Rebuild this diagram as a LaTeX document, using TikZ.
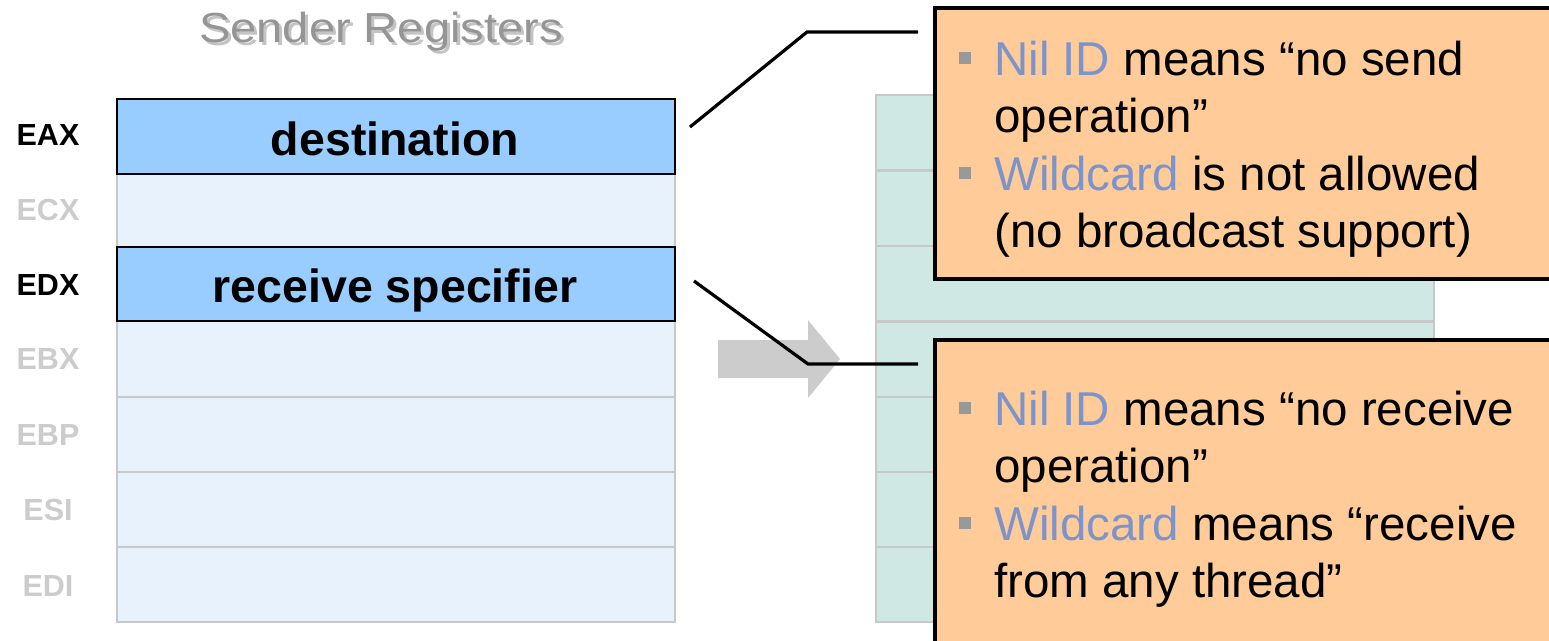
\documentclass[tikz,border=0pt]{standalone}
\usepackage{fontspec}
\setmainfont{Liberation Sans}
\definecolor{regblue}{HTML}{99CCFF}
\definecolor{reglight}{HTML}{E8F2FC}
\definecolor{reggray}{HTML}{C8C8C8}
\definecolor{rteal}{HTML}{CFE8E4}
\definecolor{calloutfill}{HTML}{FFCC99}
\definecolor{hl}{HTML}{7D94CB}
\definecolor{labgray}{HTML}{CCCCCC}
\definecolor{titlegray}{HTML}{959595}
\definecolor{titleshadow}{HTML}{C4C4C4}
\definecolor{bulgray}{HTML}{999999}
\definecolor{arrowgray}{HTML}{CCCCCC}
\begin{document}
\begin{tikzpicture}[x=1pt,y=-1pt,
  lightrow/.style={draw=reggray, line width=2pt, fill=reglight, minimum width=558pt, inner sep=0pt},
  bluerow/.style={draw=black, line width=2pt, fill=regblue, minimum width=558pt, inner sep=0pt},
  regtext/.style={anchor=base, inner sep=0pt, font=\fontsize{46.5}{55}\selectfont\bfseries},
  tealrow/.style={draw=reggray, line width=2pt, fill=rteal, minimum width=558pt, inner sep=0pt},
  reglab/.style={inner sep=0pt, font=\fontsize{30.5}{36}\selectfont\bfseries},
  calloutbox/.style={draw=black, line width=3.5pt, fill=calloutfill, inner sep=0pt},
  cline/.style={anchor=base west, inner sep=0pt, font=\fontsize{47.5}{56}\selectfont},
  bul/.style={fill=bulgray, minimum size=12pt, inner sep=0pt},
  conn/.style={draw=black, line width=3.2pt},
  titletext/.style={anchor=base, inner sep=0pt, xscale=1.12, font=\fontsize{42}{50}\selectfont}
]
\useasboundingbox (0,0) rectangle (1549,640);
% title
\node[titletext, text=titleshadow] (tsh) at (384,45) {Sender Registers};
\node[titletext, text=titlegray] (title) at (381,42) {Sender Registers};
% sender registers
\node[lightrow, minimum height=73pt] (r2) at (396,210.5) {};
\node[lightrow, minimum height=76pt] (r4) at (396,359) {};
\node[lightrow, minimum height=75pt] (r5) at (396,434.5) {};
\node[lightrow, minimum height=75pt] (r6) at (396,509.5) {};
\node[lightrow, minimum height=75pt] (r7) at (396,584.5) {};
\node[bluerow, minimum height=75pt] (r1) at (396,136.5) {};
\node[bluerow, minimum height=74pt] (r3) at (396,284) {};
\node[regtext] (dtext) at (395,155) {destination};
\node[regtext] (rtext) at (395,302) {receive specifier};
% labels
\node[reglab, text=black] (lEAX) at (48,135) {EAX};
\node[reglab, text=labgray] (lECX) at (48,210) {ECX};
\node[reglab, text=black] (lEDX) at (48,285) {EDX};
\node[reglab, text=labgray] (lEBX) at (48,359) {EBX};
\node[reglab, text=labgray] (lEBP) at (48,435) {EBP};
\node[reglab, text=labgray] (lESI) at (48,510) {ESI};
\node[reglab, text=labgray] (lEDI) at (48,586) {EDI};
% receiver registers
\foreach \i/\c in {1/132.5,2/208,3/283.5,4/359,5/434.5,6/509.5,7/584.5}{
  \node[tealrow, minimum height=75pt] (t\i) at (1155,\c) {};
}
% arrow
\fill[arrowgray] (718,340) -- (808,340) -- (808,320) -- (840,359) -- (808,398) -- (808,378) -- (718,378) -- cycle;
% callouts
\node[calloutbox, minimum width=665pt, minimum height=271pt] (c1) at (1267.5,143.5) {};
\node[calloutbox, minimum width=665pt, minimum height=360pt] (c2) at (1267.5,520) {};
% callout 1 text
\node[bul] (b1) at (965,58) {};
\node[cline] (c1l1) at (994,75) {\textcolor{hl}{Nil ID} means “no send};
\node[cline] (c1l2) at (994,132.5) {operation”};
\node[bul] (b2) at (965,173) {};
\node[cline] (c1l3) at (994,190) {\textcolor{hl}{Wildcard} is not allowed};
\node[cline] (c1l4) at (994,247.5) {(no broadcast support)};
% callout 2 text
\node[bul] (b3) at (965,408) {};
\node[cline] (c2l1) at (994,425) {\textcolor{hl}{Nil ID} means “no receive};
\node[cline] (c2l2) at (994,482.5) {operation”};
\node[bul] (b4) at (965,523) {};
\node[cline] (c2l3) at (994,540) {\textcolor{hl}{Wildcard} means “receive};
\node[cline] (c2l4) at (994,597.5) {from any thread”};
% connectors
\coordinate (s1) at (690,127);
\coordinate (k1) at (807,32);
\coordinate (e1) at (918,32);
\coordinate (s2) at (694,281);
\coordinate (k2) at (808,364);
\coordinate (e2) at (918,364);
\draw[conn] (s1) -- (k1) -- (e1);
\draw[conn] (s2) -- (k2) -- (e2);
\end{tikzpicture}
\end{document}
